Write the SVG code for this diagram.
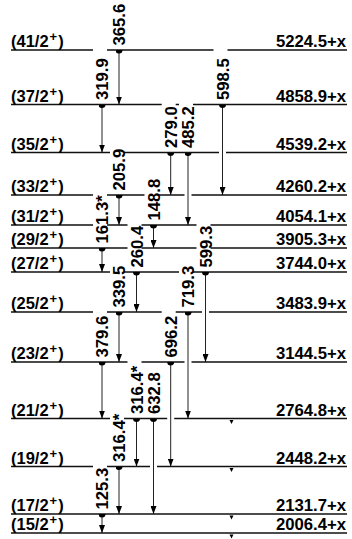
<svg xmlns="http://www.w3.org/2000/svg" width="352" height="539" viewBox="0 0 352 539">
<style>
text{font-family:"Liberation Sans",Arial,sans-serif;font-weight:bold;fill:#000}
.lv{stroke:#111;stroke-width:1.3;fill:none}
.sp{font-size:16.5px}
.sp tspan.s{font-size:13px}
.en{font-size:16.7px;text-anchor:end}
.tr{stroke:#222;stroke-width:1;fill:none;marker-start:url(#dot);marker-end:url(#ah)}
.gl{font-size:16.7px}
</style>
<defs>
<marker id="ah" viewBox="-8 -3 8 6" refX="0" refY="0" markerWidth="8" markerHeight="6" markerUnits="userSpaceOnUse" orient="auto"><path d="M-8,-3 L0,0 L-8,3 Z" fill="#000"/></marker>
<marker id="dot" viewBox="0 -3.5 3.5 7" refX="0" refY="0" markerWidth="3.5" markerHeight="7" markerUnits="userSpaceOnUse" orient="auto"><path d="M0,-3.5 A3.5,3.5 0 0 1 0,3.5 Z" fill="#000"/></marker>
<path id="tri" d="M-2,1.5 L2,1.5 L0,5.5 Z"/>
</defs>
<g id="levels">
<g id="L41"><path class="lv" d="M11,50H93 M107,50H213.5 M227.5,50H347"/><text class="sp" x="11" y="47">(41/2<tspan class="s" dx="1" dy="-6">+</tspan><tspan dx="1" dy="6">)</tspan></text><text class="en" x="346" y="47">5224.5+x</text></g>
<g id="L37"><path class="lv" d="M11,104.5H161.7 M175.7,104.5H179 M193,104.5H347"/><text class="sp" x="11" y="101.5">(37/2<tspan class="s" dx="1" dy="-6">+</tspan><tspan dx="1" dy="6">)</tspan></text><text class="en" x="346" y="101.5">4858.9+x</text></g>
<g id="L35"><path class="lv" d="M11,152.5H110 M124,152.5H219 M226,152.5H347"/><text class="sp" x="11" y="149.5">(35/2<tspan class="s" dx="1" dy="-6">+</tspan><tspan dx="1" dy="6">)</tspan></text><text class="en" x="346" y="149.5">4539.2+x</text></g>
<g id="L33"><path class="lv" d="M11,195H93 M107,195H144.5 M158.5,195H184.5 M191.5,195H347"/><text class="sp" x="11" y="192">(33/2<tspan class="s" dx="1" dy="-6">+</tspan><tspan dx="1" dy="6">)</tspan></text><text class="en" x="346" y="192">4260.2+x</text></g>
<g id="L31"><path class="lv" d="M11,225H93 M107,225H127.5 M141.5,225H196.5 M210.5,225H347"/><text class="sp" x="11" y="222">(31/2<tspan class="s" dx="1" dy="-6">+</tspan><tspan dx="1" dy="6">)</tspan></text><text class="en" x="346" y="222">4054.1+x</text></g>
<g id="L29"><path class="lv" d="M11,248H127.5 M141.5,248H196.5 M210.5,248H347"/><text class="sp" x="11" y="245">(29/2<tspan class="s" dx="1" dy="-6">+</tspan><tspan dx="1" dy="6">)</tspan></text><text class="en" x="346" y="245">3905.3+x</text></g>
<g id="L27"><path class="lv" d="M11,272H110 M124,272H179 M193,272H347"/><text class="sp" x="11" y="269">(27/2<tspan class="s" dx="1" dy="-6">+</tspan><tspan dx="1" dy="6">)</tspan></text><text class="en" x="346" y="269">3744.0+x</text></g>
<g id="L25"><path class="lv" d="M11,312H93 M107,312H161.7 M175.7,312H202 M209,312H347"/><text class="sp" x="11" y="309">(25/2<tspan class="s" dx="1" dy="-6">+</tspan><tspan dx="1" dy="6">)</tspan></text><text class="en" x="346" y="309">3483.9+x</text></g>
<g id="L23"><path class="lv" d="M11,362H127.5 M141.5,362H184.5 M191.5,362H347"/><text class="sp" x="11" y="359">(23/2<tspan class="s" dx="1" dy="-6">+</tspan><tspan dx="1" dy="6">)</tspan></text><text class="en" x="346" y="359">3144.5+x</text></g>
<g id="L21"><path class="lv" d="M11,418.5H110 M124,418.5H167.2 M174.2,418.5H347"/><text class="sp" x="11" y="415.5">(21/2<tspan class="s" dx="1" dy="-6">+</tspan><tspan dx="1" dy="6">)</tspan></text><text class="en" x="346" y="415.5">2764.8+x</text><use href="#tri" x="231.5" y="418.5"/></g>
<g id="L19"><path class="lv" d="M11,466.5H93 M107,466.5H150 M157,466.5H347"/><text class="sp" x="11" y="463.5">(19/2<tspan class="s" dx="1" dy="-6">+</tspan><tspan dx="1" dy="6">)</tspan></text><text class="en" x="346" y="463.5">2448.2+x</text><use href="#tri" x="231.5" y="466.5"/></g>
<g id="L17"><path class="lv" d="M11,514H347"/><text class="sp" x="11" y="511">(17/2<tspan class="s" dx="1" dy="-6">+</tspan><tspan dx="1" dy="6">)</tspan></text><text class="en" x="346" y="511">2131.7+x</text><use href="#tri" x="231.5" y="514"/></g>
<g id="L15"><path class="lv" d="M11,533H347"/><text class="sp" x="11" y="530">(15/2<tspan class="s" dx="1" dy="-6">+</tspan><tspan dx="1" dy="6">)</tspan></text><text class="en" x="346" y="530">2006.4+x</text><use href="#tri" x="231.5" y="533"/></g>
</g>
<g id="connectors">
<path class="tr" d="M119,50V104.5"/><text class="gl" transform="translate(125,45.5) rotate(-90)">365.6</text>
<path class="tr" d="M102,104.5V152.5"/><text class="gl" transform="translate(108,100) rotate(-90)">319.9</text>
<path class="tr" d="M222.5,104.5V195"/><text class="gl" transform="translate(228.5,100) rotate(-90)">598.5</text>
<path class="tr" d="M170.7,152.5V195"/><text class="gl" transform="translate(176.7,148) rotate(-90)">279.0</text>
<path class="tr" d="M188,152.5V225"/><text class="gl" transform="translate(194,148) rotate(-90)">485.2</text>
<path class="tr" d="M119,195V225"/><text class="gl" transform="translate(125,190.5) rotate(-90)">205.9</text>
<path class="tr" d="M153.5,225V248"/><text class="gl" transform="translate(159.5,220.5) rotate(-90)">148.8</text>
<path class="tr" d="M102,248V272"/><text class="gl" transform="translate(108,243.5) rotate(-90)">161.3*</text>
<path class="tr" d="M136.5,272V312"/><text class="gl" transform="translate(142.5,267.5) rotate(-90)">260.4</text>
<path class="tr" d="M205.5,272V362"/><text class="gl" transform="translate(211.5,267.5) rotate(-90)">599.3</text>
<path class="tr" d="M119,312V362"/><text class="gl" transform="translate(125,307.5) rotate(-90)">339.5</text>
<path class="tr" d="M188,312V418.5"/><text class="gl" transform="translate(194,307.5) rotate(-90)">719.3</text>
<path class="tr" d="M102,362V418.5"/><text class="gl" transform="translate(108,357.5) rotate(-90)">379.6</text>
<path class="tr" d="M170.7,362V466.5"/><text class="gl" transform="translate(176.7,357.5) rotate(-90)">696.2</text>
<path class="tr" d="M136.5,418.5V466.5"/><text class="gl" transform="translate(142.5,414) rotate(-90)">316.4*</text>
<path class="tr" d="M153.5,418.5V514"/><text class="gl" transform="translate(159.5,414) rotate(-90)">632.8</text>
<path class="tr" d="M119,466.5V514"/><text class="gl" transform="translate(125,462) rotate(-90)">316.4*</text>
<path class="tr" d="M102,514V533"/><text class="gl" transform="translate(108,509.5) rotate(-90)">125.3</text>
</g>
</svg>
